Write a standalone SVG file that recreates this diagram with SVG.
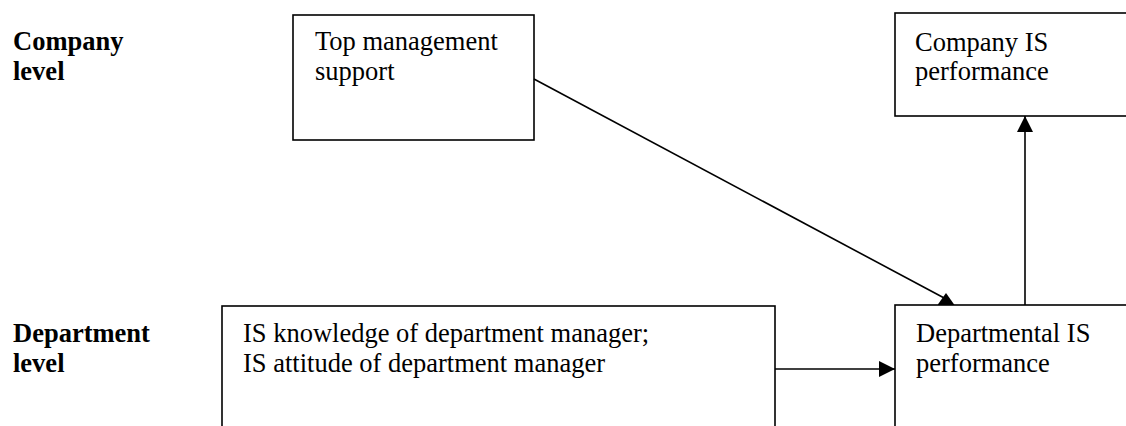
<svg xmlns="http://www.w3.org/2000/svg" width="1126" height="426" viewBox="0 0 1126 426">
<style>
  .box { fill: #ffffff; stroke: #000000; stroke-width: 1.6; }
  .t { font-family: "Liberation Serif", "Times New Roman", serif; font-size: 26.5px; fill: #000000; }
  .lbl { font-family: "Liberation Serif", "Times New Roman", serif; font-size: 26.5px; font-weight: bold; fill: #000000; }
  .edge { stroke: #000000; stroke-width: 1.6; fill: none; }
</style>
<defs>
  <marker id="arrow" viewBox="0 0 16 16" refX="16" refY="8" markerWidth="16" markerHeight="16" markerUnits="userSpaceOnUse" orient="auto">
    <path d="M0,0 L16,8 L0,16 z" fill="#000000"/>
  </marker>
  <marker id="arrowUp" viewBox="0 0 17 12" refX="8.5" refY="6" markerWidth="17" markerHeight="12" markerUnits="userSpaceOnUse" orient="0">
    <path d="M8.5,0 L17,12 L0,12 z" fill="#000000"/>
  </marker>
</defs>
<rect width="1126" height="426" fill="#ffffff"/>

<g id="label-company">
  <text class="lbl" x="13" y="50">Company</text>
  <text class="lbl" x="13" y="80">level</text>
</g>
<g id="label-department">
  <text class="lbl" x="13" y="342">Department</text>
  <text class="lbl" x="13" y="372">level</text>
</g>

<g id="top-management">
  <rect class="box" x="293" y="15" width="241" height="125"/>
  <text class="t" x="315" y="50">Top management</text>
  <text class="t" x="315" y="80">support</text>
</g>

<g id="company-is">
  <rect class="box" x="895" y="13" width="240" height="103"/>
  <text class="t" x="915" y="51">Company IS</text>
  <text class="t" x="915" y="80">performance</text>
</g>

<g id="is-knowledge">
  <rect class="box" x="222" y="306" width="553" height="130"/>
  <text class="t" x="243" y="342">IS knowledge of department manager;</text>
  <text class="t" x="243" y="372">IS attitude of department manager</text>
</g>

<g id="departmental-is">
  <rect class="box" x="895" y="305" width="240" height="130"/>
  <text class="t" x="916" y="342">Departmental IS</text>
  <text class="t" x="916" y="372">performance</text>
</g>

<g id="connectors">
  <line class="edge" x1="534" y1="79" x2="946" y2="299" marker-end="url(#arrowUp)"/>
  <line class="edge" x1="1025" y1="305" x2="1025" y2="116" marker-end="url(#arrow)"/>
  <line class="edge" x1="775" y1="369" x2="895" y2="369" marker-end="url(#arrow)"/>
</g>
</svg>
